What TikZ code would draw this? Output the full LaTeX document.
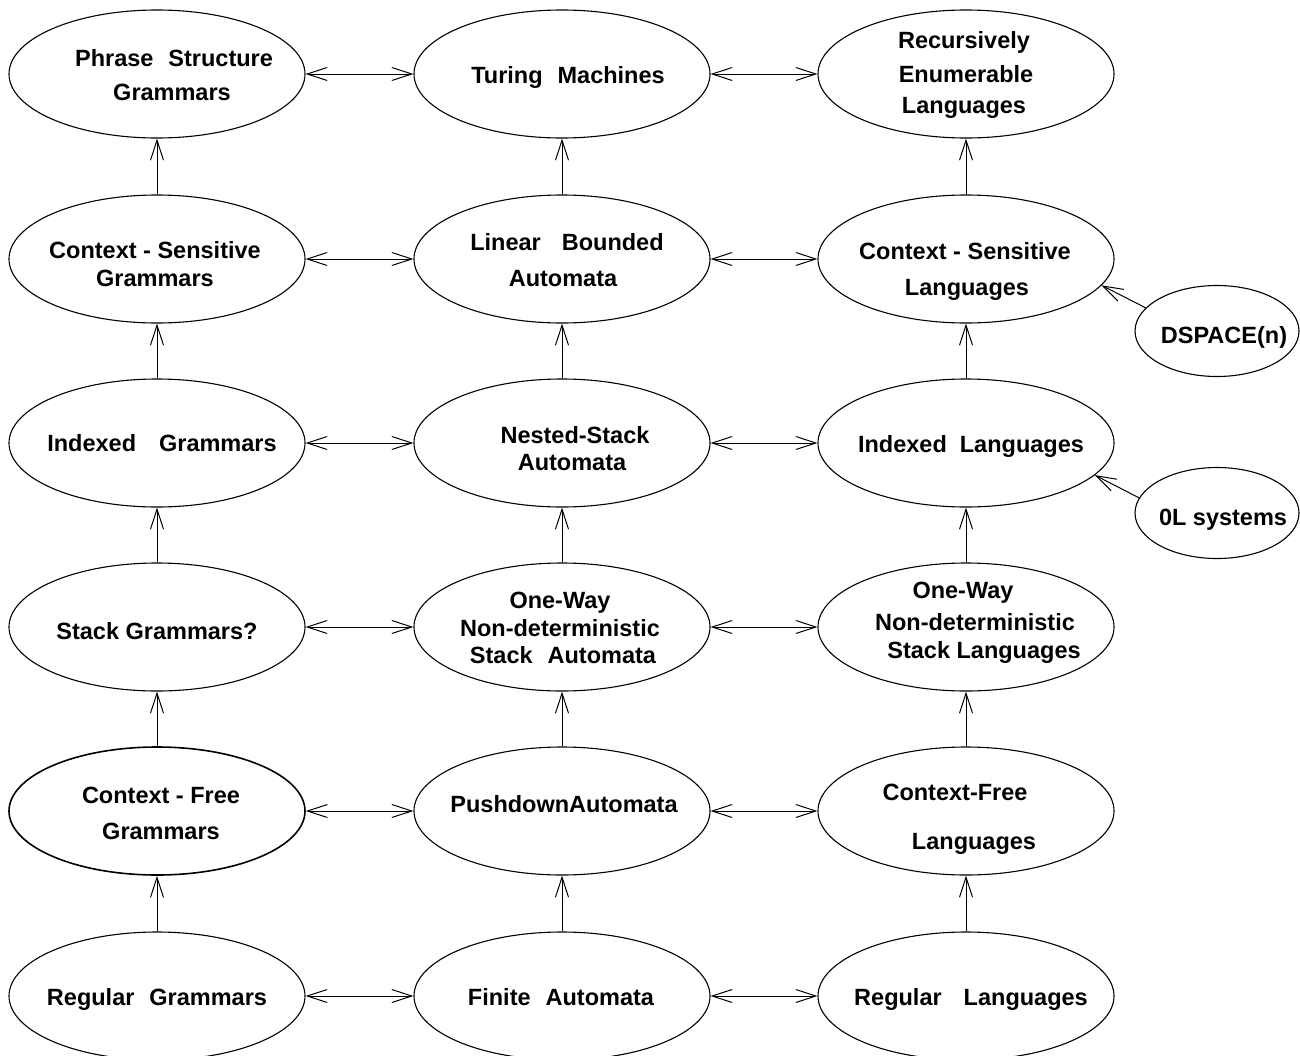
\documentclass[tikz,border=0pt]{standalone}
\usepackage{fontspec}
\setmainfont{Liberation Sans}
\usetikzlibrary{shapes.geometric,arrows.meta}
\begin{document}
\begin{tikzpicture}[x=1pt,y=-1pt,
  ell/.style={draw, ellipse, line width=1.1pt, minimum width=296pt, minimum height=128pt, inner sep=0pt},
  sml/.style={draw, ellipse, line width=1.1pt, minimum width=164pt, minimum height=91pt, inner sep=0pt},
  lbl/.style={anchor=base, inner sep=0pt, font=\bfseries\fontsize{23.5}{28}\selectfont},
  barb/.tip={Straight Barb[length=20pt,width=13pt]},
  up/.style={line width=1pt, -barb},
  both/.style={line width=1pt, barb-barb},
]
\useasboundingbox (0,0) rectangle (1300,1055);
% ellipses
\node[ell] (r1c1) at (157,74) {};
\node[ell] (r1c2) at (562,74) {};
\node[ell] (r1c3) at (966,74) {};
\node[ell] (r2c1) at (157,259) {};
\node[ell] (r2c2) at (562,259) {};
\node[ell] (r2c3) at (966,259) {};
\node[ell] (r3c1) at (157,443) {};
\node[ell] (r3c2) at (562,443) {};
\node[ell] (r3c3) at (966,443) {};
\node[ell] (r4c1) at (157,627) {};
\node[ell] (r4c2) at (562,627) {};
\node[ell] (r4c3) at (966,627) {};
\node[ell, line width=1.6pt] (r5c1) at (157,811) {};
\node[ell] (r5c2) at (562,811) {};
\node[ell] (r5c3) at (966,811) {};
\node[ell] (r6c1) at (157,996) {};
\node[ell] (r6c2) at (562,996) {};
\node[ell] (r6c3) at (966,996) {};
\node[sml] (dsp) at (1217,331) {};
\node[sml] (ol) at (1217,513) {};
% texts
\node[lbl] (t11a) at (174,66) {Phrase\hspace{15pt}Structure};
\node[lbl] (t11b) at (172,100) {Grammars};
\node[lbl] (t12a) at (568,83) {Turing\hspace{15pt}Machines};
\node[lbl] (t13a) at (964,48) {Recursively};
\node[lbl] (t13b) at (966,82) {Enumerable};
\node[lbl] (t13c) at (964,113) {Languages};
\node[lbl] (t21a) at (155,258) {Context - Sensitive};
\node[lbl] (t21b) at (155,286) {Grammars};
\node[lbl] (t22a) at (567,250) {Linear\hspace{21pt}Bounded};
\node[lbl] (t22b) at (563,286) {Automata};
\node[lbl] (t23a) at (965,259) {Context - Sensitive};
\node[lbl] (t23b) at (967,295) {Languages};
\node[lbl] (t31a) at (162,451) {Indexed\hspace{23pt}Grammars};
\node[lbl] (t32a) at (575,443) {Nested-Stack};
\node[lbl] (t32b) at (572,470) {Automata};
\node[lbl] (t33a) at (971,452) {Indexed\hspace{13pt}Languages};
\node[lbl] (t41a) at (157,639) {Stack Grammars?};
\node[lbl] (t42a) at (560,608) {One-Way};
\node[lbl] (t42b) at (560,636) {Non-deterministic};
\node[lbl] (t42c) at (563,663) {Stack\hspace{15pt}Automata};
\node[lbl] (t43a) at (963,598) {One-Way};
\node[lbl] (t43b) at (975,630) {Non-deterministic};
\node[lbl] (t43c) at (984,658) {Stack Languages};
\node[lbl] (t51a) at (161,803) {Context - Free};
\node[lbl] (t51b) at (161,839) {Grammars};
\node[lbl] (t52a) at (564,812) {PushdownAutomata};
\node[lbl] (t53a) at (955,800) {Context-Free};
\node[lbl] (t53b) at (974,849) {Languages};
\node[lbl] (t61a) at (157,1005) {Regular\hspace{15pt}Grammars};
\node[lbl] (t62a) at (561,1005) {Finite\hspace{15pt}Automata};
\node[lbl] (t63a) at (971,1005) {Regular\hspace{22pt}Languages};
\node[lbl] (tdsp) at (1224,343) {DSPACE(n)};
\node[lbl] (tol) at (1223,525) {0L systems};
% horizontal arrows
\foreach \r in {1,...,6}{
  \draw[both] (r\r c1) -- (r\r c2);
  \draw[both] (r\r c2) -- (r\r c3);
}
% vertical arrows
\foreach \c in {1,2,3}{
  \foreach \r/\s in {2/1,3/2,4/3,5/4,6/5}{
    \draw[up] (r\r c\c) -- (r\s c\c);
  }
}
% side arrows
\draw[up] (dsp.162) -- (r2c3.-11);
\draw[up] (ol.169) -- (r3c3.-14);
\end{tikzpicture}
\end{document}
